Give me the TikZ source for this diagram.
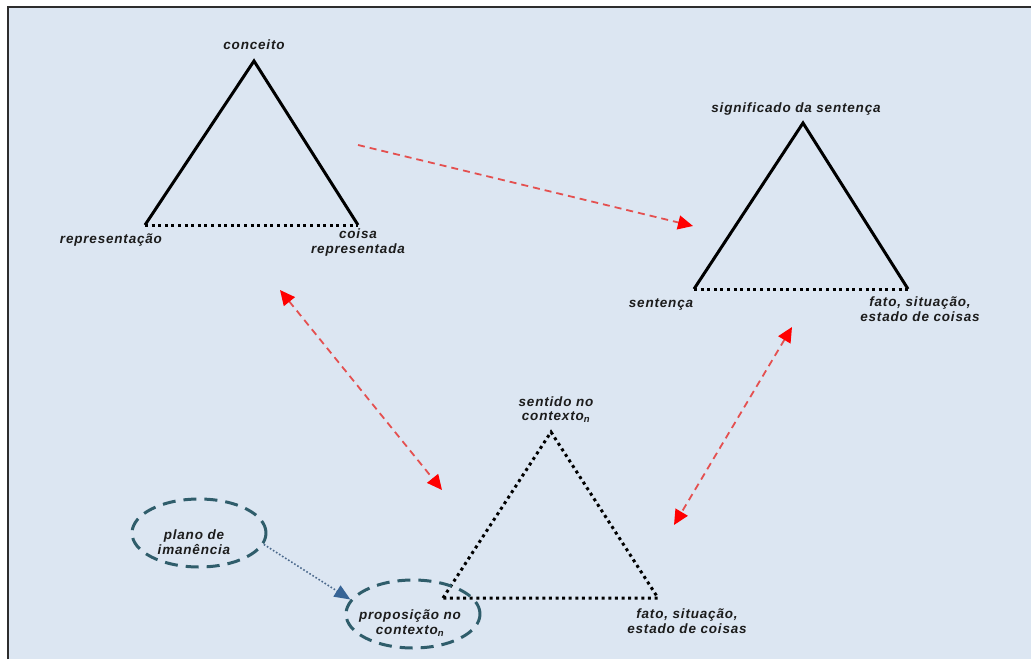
\documentclass[tikz,border=0pt]{standalone}
\usepackage{fontspec}
\setmainfont{Liberation Sans}[LetterSpace=6]
\usetikzlibrary{arrows.meta,positioning,shapes.geometric}
\definecolor{paneblue}{RGB}{220,230,242}
\definecolor{framegray}{RGB}{45,45,45}
\definecolor{ovalteal}{RGB}{47,93,107}
\definecolor{linkblue}{RGB}{75,105,140}
\definecolor{tipblue}{RGB}{55,100,150}
\definecolor{linkred}{RGB}{228,80,80}
\definecolor{textdark}{RGB}{28,28,28}

\begin{document}
\begin{tikzpicture}[x=1pt,y=-1pt,
    font=\fontsize{13.5}{14.5}\selectfont\bfseries\itshape,
    lbl/.style={text=textdark,align=center,inner sep=1pt},
    side/.style={line width=3pt,line join=miter},
    dotside/.style={line width=3pt,dash pattern=on 3pt off 3.6pt},
    oval/.style={ellipse,draw=ovalteal,line width=3pt,
      dash pattern=on 13pt off 8pt,minimum width=134pt,minimum height=68pt},
    redlink/.style={draw=linkred,line width=1.8pt,dash pattern=on 7pt off 5pt},
    redtip/.tip={Triangle[red,length=15pt,width=14pt]},
    bluelink/.style={draw=linkblue,line width=1.6pt,dash pattern=on 1.6pt off 2pt}]

  % frame
  \useasboundingbox (0,0) rectangle (1033,661);
  \fill[paneblue] (8,7) rectangle (1031,659);
  \draw[framegray,line width=2pt] (8,659) -- (8,7) -- (1031,7);

  % triangle: conceito
  \coordinate (A1) at (254,61);
  \coordinate (B1) at (145,225);
  \coordinate (C1) at (358,225);
  \draw[side] (B1) -- (A1) -- (C1);
  \draw[dotside] (B1) -- (C1);
  \node[lbl,above=10pt of A1] (conceito) {conceito};
  \node[lbl,below=8pt of B1,xshift=-34pt] (repr) {representação};
  \node[lbl,below=3pt of C1] (coisa) {coisa\\representada};

  % triangle: significado
  \coordinate (A2) at (803,123);
  \coordinate (B2) at (694,289);
  \coordinate (C2) at (908,289);
  \draw[side] (B2) -- (A2) -- (C2);
  \draw[dotside] (B2) -- (C2);
  \node[lbl,above=6pt of A2,xshift=-7pt] (signif) {significado da sentença};
  \node[lbl,below=8pt of B2,xshift=-33pt] (sent) {sentença};
  \node[lbl,below=7pt of C2,xshift=12pt] (fato1) {fato, situação,\\estado de coisas};

  % triangle: sentido no contexto
  \coordinate (A3) at (551,432);
  \coordinate (B3) at (443,598);
  \coordinate (C3) at (658,598);
  \draw[dotside] (B3) -- (A3) -- (C3) -- cycle;
  \node[lbl,above=8pt of A3,xshift=5pt] (sentido) {sentido no\\contexto\textsubscript{n}};
  \node[lbl,below=10pt of C3,xshift=29pt] (fato2) {fato, situação,\\estado de coisas};

  % ovals
  \node[oval] (plano) at (199,533) {};
  \node[lbl] (planotxt) at (plano.center) [xshift=-5pt,yshift=-9pt] {plano de\\imanência};
  \node[oval] (prop) at (413,614) {};
  \node[lbl] (proptxt) at (prop.center) [xshift=-3pt,yshift=-9pt] {proposição no\\contexto\textsubscript{n}};
  \draw[bluelink,-{Triangle[tipblue,length=16pt,width=13pt]}] (plano.-10) -- (prop.167);

  % red links
  \coordinate (r1a) at (358,145);
  \coordinate (r1b) at (693,226);
  \coordinate (r2a) at (280,290);
  \coordinate (r2b) at (442,490);
  \coordinate (r3a) at (792,327);
  \coordinate (r3b) at (674,525);
  \draw[redlink,-redtip] (r1a) -- (r1b);
  \draw[redlink,redtip-redtip] (r2a) -- (r2b);
  \draw[redlink,redtip-redtip] (r3a) -- (r3b);
\end{tikzpicture}
\end{document}
